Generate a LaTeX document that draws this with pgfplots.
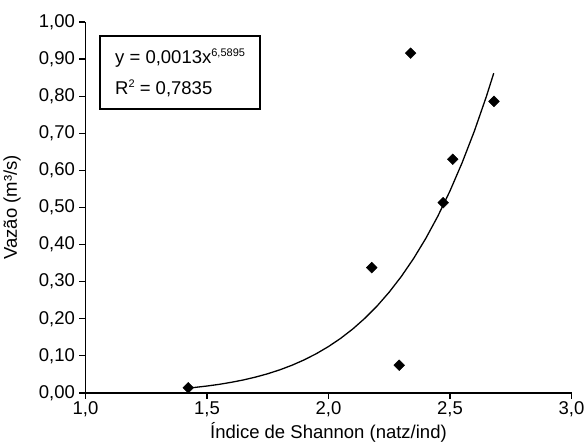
\documentclass[border=0pt]{standalone}
\usepackage{pgfplots}
\pgfplotsset{compat=1.18}
\usepackage{fontspec}
\setmainfont{Liberation Sans}
\newcommand\f{\fontsize{18.5}{22}\selectfont}

\begin{document}
\begin{tikzpicture}
\path[use as bounding box] (-85.5pt,-51pt) rectangle (501.5pt,393pt);
\begin{axis}[
    scale only axis,
    width=486pt, height=371pt,
    xmin=1, xmax=3, ymin=0, ymax=1,
    axis lines=left,
    axis line style={line width=1.4pt, -},
    xtick={1,1.5,2,2.5,3},
    xticklabels={{1,0},{1,5},{2,0},{2,5},{3,0}},
    ytick={0,0.1,0.2,0.3,0.4,0.5,0.6,0.7,0.8,0.9,1},
    yticklabels={{0,00},{0,10},{0,20},{0,30},{0,40},{0,50},{0,60},{0,70},{0,80},{0,90},{1,00}},
    tick align=outside,
    major tick length=6pt,
    tick style={line width=1.2pt, black},
    tick label style={font=\f},
    xticklabel style={yshift=1pt},
    yticklabel style={xshift=-1pt},
    xlabel={Índice de Shannon (natz/ind)},
    ylabel={Vazão (m³/s)},
    every axis x label/.style={at={(axis description cs:0.5,-0.105)}, anchor=center, font=\f},
    every axis y label/.style={at={(axis description cs:-0.151,0.5)}, rotate=90, anchor=center, font=\f},
    clip=false,
]
% fitted power curve
\addplot[black, line width=1.3pt] coordinates {
    (1.43,0.0137) (1.45,0.0150) (1.50,0.0188) (1.55,0.0233) (1.60,0.0288)
    (1.65,0.0352) (1.70,0.0429) (1.75,0.0519) (1.80,0.0625) (1.85,0.0749)
    (1.90,0.0893) (1.95,0.1060) (2.00,0.1252) (2.05,0.1473) (2.10,0.1726)
    (2.15,0.2016) (2.20,0.2345) (2.25,0.2720) (2.30,0.3144) (2.35,0.3623)
    (2.40,0.4162) (2.45,0.4767) (2.50,0.5447) (2.55,0.6208) (2.60,0.7054)
    (2.65,0.7998) (2.68,0.8620)
};
% observed points
\addplot[only marks, mark=square*, mark size=3.8pt, mark options={rotate=45, fill=black}, black] coordinates {
    (1.423,0.014) (2.178,0.338) (2.291,0.075) (2.338,0.916)
    (2.472,0.513) (2.511,0.630) (2.681,0.786)
};
\draw[line width=1.2pt] (axis cs:1.06,0.7655) rectangle (axis cs:1.718,0.962);
\node[anchor=west, font=\f, inner sep=0pt] at (axis cs:1.1214,0.903)
    {y = 0,0013x\raisebox{7pt}{\fontsize{11}{12}\selectfont 6,5895}};
\node[anchor=west, font=\f, inner sep=0pt] at (axis cs:1.1214,0.822)
    {R\raisebox{7pt}{\fontsize{11}{12}\selectfont 2} = 0,7835};
\end{axis}
\end{tikzpicture}
\end{document}
